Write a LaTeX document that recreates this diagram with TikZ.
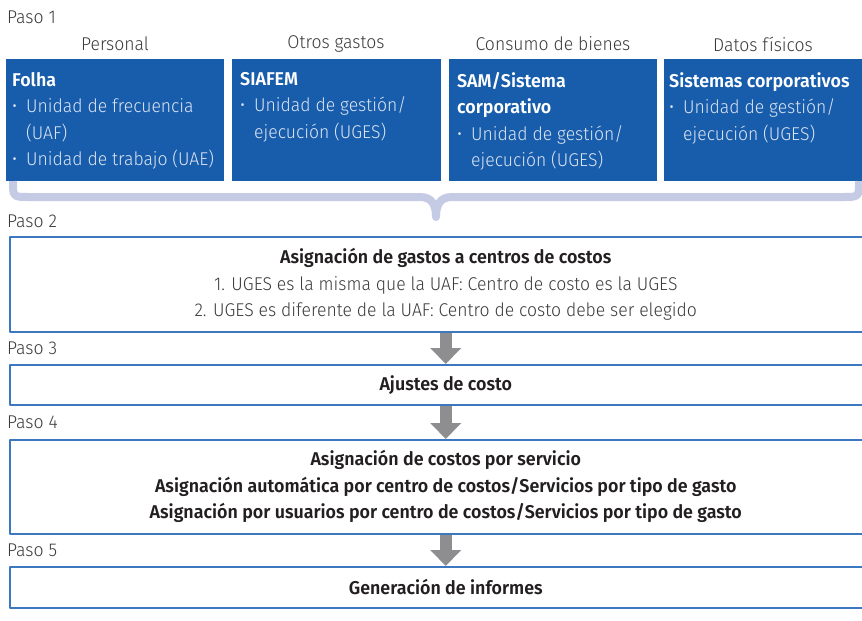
\documentclass[tikz,border=0pt]{standalone}
\usepackage{fontspec}
\setmainfont{Fira Sans Light}[FakeStretch=0.95,BoldFont={Fira Sans SemiBold},BoldFeatures={FakeStretch=0.965}]
\usetikzlibrary{arrows.meta}
\definecolor{boxblue}{HTML}{185DAB}
\definecolor{lineblue}{HTML}{3B78C0}
\definecolor{bracegray}{HTML}{C6CBE5}
\definecolor{arrowgray}{HTML}{8E8E90}
\definecolor{softgray}{HTML}{3A3A3A}
\definecolor{darktext}{HTML}{231F20}
\definecolor{paleblue}{HTML}{DCE4F3}
\newcommand{\bul}{\makebox[14pt][l]{\textbullet}}
\newcommand{\ind}{\hspace*{14pt}}
\tikzset{
  srcbox/.style={fill=boxblue,anchor=north west,minimum height=122pt,inner sep=0pt},
  srctext/.style={anchor=north west,align=left,inner sep=0pt,text=paleblue},
  head/.style={text=softgray,inner sep=0pt},
  paso/.style={anchor=west,text=softgray,inner sep=0pt},
  stepbox/.style={draw=lineblue,line width=1.5pt,anchor=north west,minimum width=872pt,
    inner sep=0pt,align=center,text=darktext},
  blockarr/.style={draw=arrowgray,line width=12pt,-{Triangle[width=30pt,length=16pt]}}
}
\begin{document}
\begin{tikzpicture}[x=1pt,y=-1pt,font=\fontsize{18.5}{26.5}\selectfont,line join=round]
\useasboundingbox (0,0) rectangle (862,621);

\node[paso] (p1) at (7,17) {Paso 1};
\node[head] (h1) at (115,44) {Personal};
\node[head] (h2) at (336,44) {Otros gastos};
\node[head] (h3) at (553,44) {Consumo de bienes};
\node[head] (h4) at (763,44) {Datos físicos};

\node[srcbox,minimum width=218pt] (folha) at (6,59) {};
\node[srcbox,minimum width=209pt] (siafem) at (232,59) {};
\node[srcbox,minimum width=208pt] (sam) at (449,59) {};
\node[srcbox,minimum width=200pt] (corp) at (664,59) {};

\node[srctext] (t1) at (12,72) {\textcolor{white}{\bfseries Folha}\\
  \bul Unidad de frecuencia\\ \ind (UAF)\\ \bul Unidad de trabajo (UAE)};
\node[srctext] (t2) at (240,72) {\textcolor{white}{\bfseries SIAFEM}\\
  \bul Unidad de gestión/\\ \ind ejecución (UGES)};
\node[srctext] (t3) at (457,72) {\textcolor{white}{\bfseries SAM/Sistema}\\
  \textcolor{white}{\bfseries corporativo}\\
  \bul Unidad de gestión/\\ \ind ejecución (UGES)};
\node[srctext] (t4) at (669,72) {\textcolor{white}{\bfseries Sistemas corporativos}\\
  \bul Unidad de gestión/\\ \ind ejecución (UGES)};

\draw[bracegray,line width=8pt] (13,181) .. controls (13,197) .. (29,197) -- (420,197)
  .. controls (432,197) and (436,205) .. (436,217)
  .. controls (436,205) and (440,197) .. (452,197) -- (843,197)
  .. controls (859,197) .. (859,181);

\node[paso] (p2) at (7,221) {Paso 2};
\node[stepbox,minimum height=95pt] (asig) at (9,236) {\bfseries Asignación de gastos a centros de costos\\
  \textcolor{softgray}{1. UGES es la misma que la UAF: Centro de costo es la UGES}\\
  \textcolor{softgray}{2. UGES es diferente de la UAF: Centro de costo debe ser elegido}};

\node[paso] (p3) at (7,348) {Paso 3};
\node[stepbox,minimum height=40pt] (ajus) at (9,364) {\bfseries Ajustes de costo};

\node[paso] (p4) at (7,422) {Paso 4};
\node[stepbox,minimum height=94pt,font=\fontsize{18.5}{26.5}\selectfont\bfseries] (serv) at (9,439) {Asignación de costos por servicio\\
  Asignación automática por centro de costos/Servicios por tipo de gasto\\
  Asignación por usuarios por centro de costos/Servicios por tipo de gasto};

\node[paso] (p5) at (7,550) {Paso 5};
\node[stepbox,minimum height=41pt] (info) at (9,566) {\bfseries Generación de informes};

\draw[blockarr] (asig) -- (ajus);
\draw[blockarr] (ajus) -- (serv);
\draw[blockarr] (serv) -- (info);
\end{tikzpicture}
\end{document}
